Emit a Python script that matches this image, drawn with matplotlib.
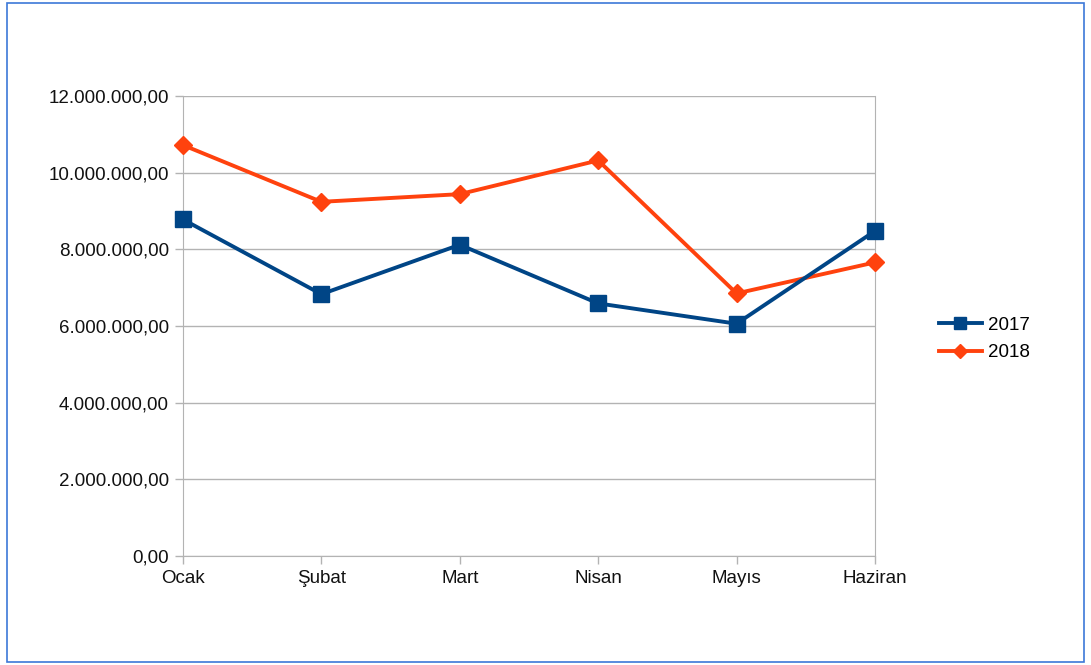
import matplotlib
matplotlib.use('Agg')
import matplotlib.pyplot as plt
from matplotlib.patches import Rectangle
from matplotlib.ticker import FuncFormatter

plt.rcParams['font.family'] = ['Liberation Sans', 'DejaVu Sans']

# veriler
aylar = ['Ocak', 'Şubat', 'Mart', 'Nisan', 'Mayıs', 'Haziran']
y2017 = [8780000, 6830000, 8120000, 6590000, 6060000, 8480000]
y2018 = [10720000, 9240000, 9440000, 10320000, 6850000, 7660000]
yticks = [0, 2000000, 4000000, 6000000, 8000000, 10000000, 12000000]


def tr_format(v, pos):
    s = f"{v:,.2f}"
    return s.replace(',', 'X').replace('.', ',').replace('X', '.')


fig = plt.figure(figsize=(10.91, 6.65), dpi=100)
ax = fig.add_axes([0.1677, 0.1639, 0.802 - 0.1677, 0.8556 - 0.1639])

x = list(range(len(aylar)))
ax.plot(x, y2017, color='#004586', lw=2.8, marker='s', ms=12, label='2017', clip_on=False, zorder=4)
ax.plot(x, y2018, color='#ff420e', lw=2.8, marker='D', ms=9, label='2018', clip_on=False, zorder=3)

ax.set_xlim(0, len(aylar) - 1)
ax.set_ylim(0, 12000000)
ax.set_xticks(x)
ax.set_xticklabels(aylar)
ax.set_yticks(yticks)
ax.yaxis.set_major_formatter(FuncFormatter(tr_format))
ax.grid(axis='y', color='#b3b3b3', lw=1)
ax.set_axisbelow(True)
for s in ['left', 'bottom', 'right']:
    ax.spines[s].set_color('#b3b3b3')
ax.spines['top'].set_visible(False)
ax.tick_params(colors='#b3b3b3', labelcolor='#111111', labelsize=13.5, length=6, width=1)
ax.tick_params(axis='x', pad=4)
ax.tick_params(axis='y', pad=4)

ax.legend(loc='center left', bbox_to_anchor=(1.068, 0.472), frameon=False, fontsize=13.5,
          handlelength=2.3, labelspacing=0.55, handletextpad=0.3, markerscale=0.75)

fig.patches.append(Rectangle((0.006, 0.004), 0.988, 0.991, transform=fig.transFigure,
                             fill=False, edgecolor='#3c78d8', lw=1.2))

fig.savefig('out.png', dpi=100)
